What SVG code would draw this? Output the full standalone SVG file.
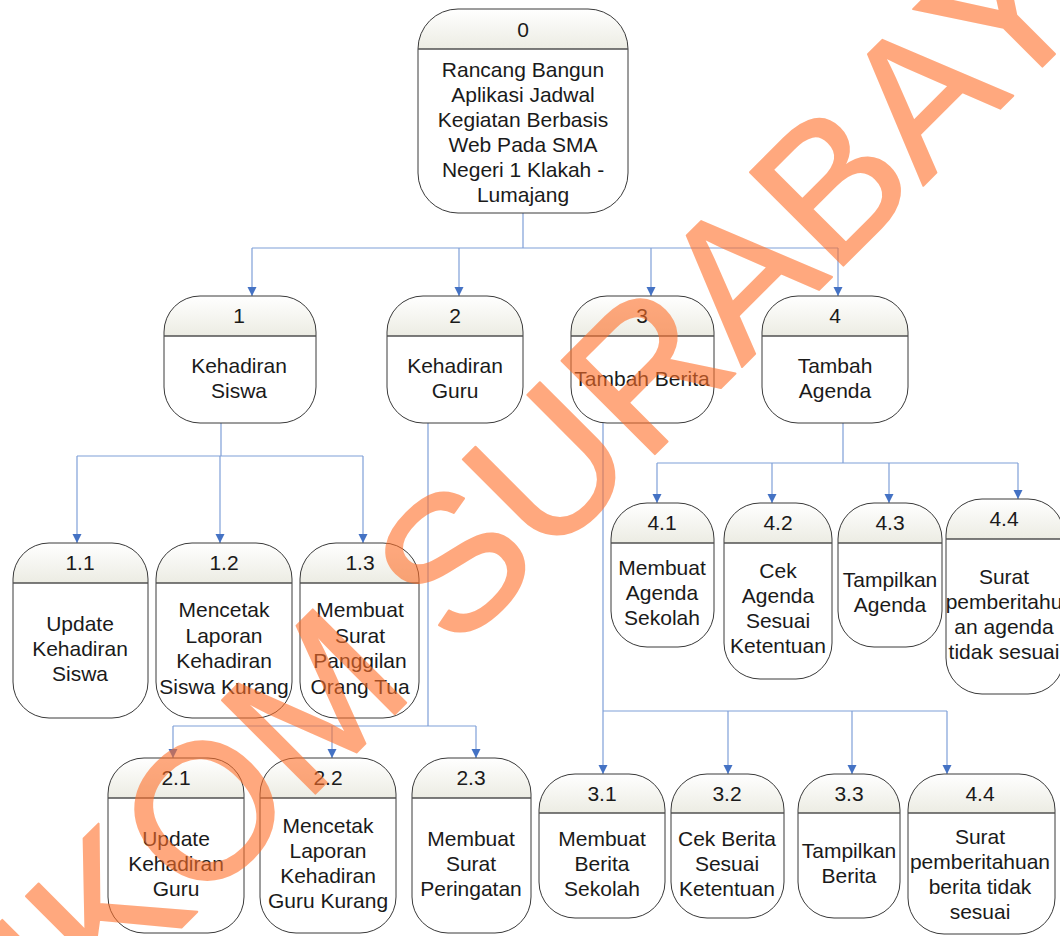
<svg xmlns="http://www.w3.org/2000/svg" width="1060" height="936" viewBox="0 0 1060 936">
<defs>
<linearGradient id="hg" x1="0" y1="0" x2="0" y2="1">
<stop offset="0" stop-color="#ffffff"/>
<stop offset="1" stop-color="#ececE3"/>
</linearGradient>
<marker id="ah" markerWidth="10" markerHeight="10" refX="9" refY="5" orient="auto" markerUnits="userSpaceOnUse">
<path d="M0,0.5 L9,5 L0,9.5 Z" fill="#4472C4"/>
</marker>
</defs>
<style>
.hd{fill:url(#hg);stroke:none}
.ol{fill:none;stroke:#3a3a3a;stroke-width:1}
.bd{fill:#ffffff;stroke:none}
.dv{stroke:#505050;stroke-width:1.5}
text{font-family:"Liberation Sans",Arial,sans-serif;font-size:21px;fill:#1a1a1a;text-anchor:middle}
.cn{fill:none;stroke:#7f9fd8;stroke-width:1.2}
.ar{fill:none;stroke:#7f9fd8;stroke-width:1.2;marker-end:url(#ah)}
.wm{font-family:"Liberation Sans",Arial,sans-serif;font-size:192px;fill:#ff702a;stroke:#ff702a;stroke-width:2;stroke-linejoin:round;text-anchor:start}
</style>
<rect width="1060" height="936" fill="#ffffff"/>

<g id="connectors">
<path class="cn" d="M523,213 V248 M252,248 H838"/>
<path class="ar" d="M252,248 V296"/>
<path class="ar" d="M459,248 V296"/>
<path class="ar" d="M651,248 V296"/>
<path class="ar" d="M838,248 V296"/>
<path class="cn" d="M221,423 V456 M77,456 H363"/>
<path class="ar" d="M77,456 V543"/>
<path class="ar" d="M220,456 V543"/>
<path class="ar" d="M363,456 V543"/>
<path class="cn" d="M428,423 V726 M173,726 H476"/>
<path class="ar" d="M173,726 V758"/>
<path class="ar" d="M332,726 V758"/>
<path class="ar" d="M476,726 V758"/>
<path class="cn" d="M603,423 V711 M603,711 H947"/>
<path class="ar" d="M603,711 V774"/>
<path class="ar" d="M728,711 V774"/>
<path class="ar" d="M852,711 V774"/>
<path class="ar" d="M947,711 V774"/>
<path class="cn" d="M843,423 V463 M657,463 H1018"/>
<path class="ar" d="M657,463 V503"/>
<path class="ar" d="M772,463 V503"/>
<path class="ar" d="M889,463 V503"/>
<path class="ar" d="M1018,463 V499"/>
</g>

<g id="node-0">
<rect class="bd" x="418" y="9" width="210" height="204" rx="40"/>
<path class="hd" d="M418,49 V49 A40,40 0 0 1 458,9 H588 A40,40 0 0 1 628,49 Z"/>
<rect class="ol" x="418" y="9" width="210" height="204" rx="40"/>
<line class="dv" x1="418" y1="49" x2="628" y2="49"/>
<text x="523" y="37">0</text>
<text x="523" y="77">Rancang Bangun</text>
<text x="523" y="102">Aplikasi Jadwal</text>
<text x="523" y="127">Kegiatan Berbasis</text>
<text x="523" y="152">Web Pada SMA</text>
<text x="523" y="177">Negeri 1 Klakah -</text>
<text x="523" y="202">Lumajang</text>
</g>

<g id="node-1">
<rect class="bd" x="164" y="296" width="152" height="127" rx="36"/>
<path class="hd" d="M164,336 V332 A36,36 0 0 1 200,296 H280 A36,36 0 0 1 316,332 V336 Z"/>
<rect class="ol" x="164" y="296" width="152" height="127" rx="36"/>
<line class="dv" x1="164" y1="336" x2="316" y2="336"/>
<text x="239" y="323">1</text>
<text x="239" y="373">Kehadiran</text>
<text x="239" y="398">Siswa</text>
</g>

<g id="node-2">
<rect class="bd" x="387" y="296" width="136" height="127" rx="36"/>
<path class="hd" d="M387,336 V332 A36,36 0 0 1 423,296 H487 A36,36 0 0 1 523,332 V336 Z"/>
<rect class="ol" x="387" y="296" width="136" height="127" rx="36"/>
<line class="dv" x1="387" y1="336" x2="523" y2="336"/>
<text x="455" y="323">2</text>
<text x="455" y="373">Kehadiran</text>
<text x="455" y="398">Guru</text>
</g>

<g id="node-3">
<rect class="bd" x="571" y="296" width="143" height="127" rx="36"/>
<path class="hd" d="M571,336 V332 A36,36 0 0 1 607,296 H678 A36,36 0 0 1 714,332 V336 Z"/>
<rect class="ol" x="571" y="296" width="143" height="127" rx="36"/>
<line class="dv" x1="571" y1="336" x2="714" y2="336"/>
<text x="642" y="323">3</text>
<text x="642" y="386">Tambah Berita</text>
</g>

<g id="node-4">
<rect class="bd" x="762" y="296" width="146" height="127" rx="36"/>
<path class="hd" d="M762,336 V332 A36,36 0 0 1 798,296 H872 A36,36 0 0 1 908,332 V336 Z"/>
<rect class="ol" x="762" y="296" width="146" height="127" rx="36"/>
<line class="dv" x1="762" y1="336" x2="908" y2="336"/>
<text x="835" y="323">4</text>
<text x="835" y="373">Tambah</text>
<text x="835" y="398">Agenda</text>
</g>

<g id="node-1-1">
<rect class="bd" x="13" y="543" width="135" height="175" rx="36"/>
<path class="hd" d="M13,583 V579 A36,36 0 0 1 49,543 H112 A36,36 0 0 1 148,579 V583 Z"/>
<rect class="ol" x="13" y="543" width="135" height="175" rx="36"/>
<line class="dv" x1="13" y1="583" x2="148" y2="583"/>
<text x="80" y="570">1.1</text>
<text x="80" y="631">Update</text>
<text x="80" y="656">Kehadiran</text>
<text x="80" y="681">Siswa</text>
</g>

<g id="node-1-2">
<rect class="bd" x="156" y="543" width="136" height="175" rx="36"/>
<path class="hd" d="M156,583 V579 A36,36 0 0 1 192,543 H256 A36,36 0 0 1 292,579 V583 Z"/>
<rect class="ol" x="156" y="543" width="136" height="175" rx="36"/>
<line class="dv" x1="156" y1="583" x2="292" y2="583"/>
<text x="224" y="570">1.2</text>
<text x="224" y="617">Mencetak</text>
<text x="224" y="643">Laporan</text>
<text x="224" y="668">Kehadiran</text>
<text x="224" y="694">Siswa Kurang</text>
</g>

<g id="node-1-3">
<rect class="bd" x="300" y="543" width="119" height="175" rx="36"/>
<path class="hd" d="M300,583 V579 A36,36 0 0 1 336,543 H383 A36,36 0 0 1 419,579 V583 Z"/>
<rect class="ol" x="300" y="543" width="119" height="175" rx="36"/>
<line class="dv" x1="300" y1="583" x2="419" y2="583"/>
<text x="360" y="570">1.3</text>
<text x="360" y="617">Membuat</text>
<text x="360" y="643">Surat</text>
<text x="360" y="668">Panggilan</text>
<text x="360" y="694">Orang Tua</text>
</g>

<g id="node-2-1">
<rect class="bd" x="108" y="758" width="136" height="175" rx="36"/>
<path class="hd" d="M108,798 V794 A36,36 0 0 1 144,758 H208 A36,36 0 0 1 244,794 V798 Z"/>
<rect class="ol" x="108" y="758" width="136" height="175" rx="36"/>
<line class="dv" x1="108" y1="798" x2="244" y2="798"/>
<text x="176" y="785">2.1</text>
<text x="176" y="846">Update</text>
<text x="176" y="871">Kehadiran</text>
<text x="176" y="896">Guru</text>
</g>

<g id="node-2-2">
<rect class="bd" x="260" y="758" width="136" height="175" rx="36"/>
<path class="hd" d="M260,798 V794 A36,36 0 0 1 296,758 H360 A36,36 0 0 1 396,794 V798 Z"/>
<rect class="ol" x="260" y="758" width="136" height="175" rx="36"/>
<line class="dv" x1="260" y1="798" x2="396" y2="798"/>
<text x="328" y="785">2.2</text>
<text x="328" y="833">Mencetak</text>
<text x="328" y="858">Laporan</text>
<text x="328" y="883">Kehadiran</text>
<text x="328" y="908">Guru Kurang</text>
</g>

<g id="node-2-3">
<rect class="bd" x="412" y="758" width="119" height="175" rx="36"/>
<path class="hd" d="M412,798 V794 A36,36 0 0 1 448,758 H495 A36,36 0 0 1 531,794 V798 Z"/>
<rect class="ol" x="412" y="758" width="119" height="175" rx="36"/>
<line class="dv" x1="412" y1="798" x2="531" y2="798"/>
<text x="471" y="785">2.3</text>
<text x="471" y="846">Membuat</text>
<text x="471" y="871">Surat</text>
<text x="471" y="896">Peringatan</text>
</g>

<g id="node-3-1">
<rect class="bd" x="539" y="774" width="126" height="144" rx="36"/>
<path class="hd" d="M539,813 V810 A36,36 0 0 1 575,774 H629 A36,36 0 0 1 665,810 V813 Z"/>
<rect class="ol" x="539" y="774" width="126" height="144" rx="36"/>
<line class="dv" x1="539" y1="813" x2="665" y2="813"/>
<text x="602" y="801">3.1</text>
<text x="602" y="846">Membuat</text>
<text x="602" y="871">Berita</text>
<text x="602" y="896">Sekolah</text>
</g>

<g id="node-3-2">
<rect class="bd" x="671" y="774" width="113" height="144" rx="36"/>
<path class="hd" d="M671,813 V810 A36,36 0 0 1 707,774 H748 A36,36 0 0 1 784,810 V813 Z"/>
<rect class="ol" x="671" y="774" width="113" height="144" rx="36"/>
<line class="dv" x1="671" y1="813" x2="784" y2="813"/>
<text x="727" y="801">3.2</text>
<text x="727" y="846">Cek Berita</text>
<text x="727" y="871">Sesuai</text>
<text x="727" y="896">Ketentuan</text>
</g>

<g id="node-3-3">
<rect class="bd" x="798" y="774" width="102" height="144" rx="36"/>
<path class="hd" d="M798,813 V810 A36,36 0 0 1 834,774 H864 A36,36 0 0 1 900,810 V813 Z"/>
<rect class="ol" x="798" y="774" width="102" height="144" rx="36"/>
<line class="dv" x1="798" y1="813" x2="900" y2="813"/>
<text x="849" y="801">3.3</text>
<text x="849" y="858">Tampilkan</text>
<text x="849" y="883">Berita</text>
</g>

<g id="node-3-4">
<rect class="bd" x="908" y="774" width="147" height="160" rx="36"/>
<path class="hd" d="M908,813 V810 A36,36 0 0 1 944,774 H1019 A36,36 0 0 1 1055,810 V813 Z"/>
<rect class="ol" x="908" y="774" width="147" height="160" rx="36"/>
<line class="dv" x1="908" y1="813" x2="1055" y2="813"/>
<text x="980" y="801">4.4</text>
<text x="980" y="844">Surat</text>
<text x="980" y="869">pemberitahuan</text>
<text x="980" y="894">berita tidak</text>
<text x="980" y="919">sesuai</text>
</g>

<g id="node-4-1">
<rect class="bd" x="611" y="503" width="103" height="144" rx="36"/>
<path class="hd" d="M611,543 V539 A36,36 0 0 1 647,503 H678 A36,36 0 0 1 714,539 V543 Z"/>
<rect class="ol" x="611" y="503" width="103" height="144" rx="36"/>
<line class="dv" x1="611" y1="543" x2="714" y2="543"/>
<text x="662" y="530">4.1</text>
<text x="662" y="575">Membuat</text>
<text x="662" y="600">Agenda</text>
<text x="662" y="625">Sekolah</text>
</g>

<g id="node-4-2">
<rect class="bd" x="724" y="503" width="108" height="176" rx="36"/>
<path class="hd" d="M724,543 V539 A36,36 0 0 1 760,503 H796 A36,36 0 0 1 832,539 V543 Z"/>
<rect class="ol" x="724" y="503" width="108" height="176" rx="36"/>
<line class="dv" x1="724" y1="543" x2="832" y2="543"/>
<text x="778" y="530">4.2</text>
<text x="778" y="578">Cek</text>
<text x="778" y="603">Agenda</text>
<text x="778" y="628">Sesuai</text>
<text x="778" y="653">Ketentuan</text>
</g>

<g id="node-4-3">
<rect class="bd" x="838" y="503" width="104" height="144" rx="36"/>
<path class="hd" d="M838,543 V539 A36,36 0 0 1 874,503 H906 A36,36 0 0 1 942,539 V543 Z"/>
<rect class="ol" x="838" y="503" width="104" height="144" rx="36"/>
<line class="dv" x1="838" y1="543" x2="942" y2="543"/>
<text x="890" y="530">4.3</text>
<text x="890" y="587">Tampilkan</text>
<text x="890" y="612">Agenda</text>
</g>

<g id="node-4-4">
<rect class="bd" x="946" y="499" width="118" height="195" rx="36"/>
<path class="hd" d="M946,539 V535 A36,36 0 0 1 982,499 H1028 A36,36 0 0 1 1064,535 V539 Z"/>
<rect class="ol" x="946" y="499" width="118" height="195" rx="36"/>
<line class="dv" x1="946" y1="539" x2="1064" y2="539"/>
<text x="1004" y="526">4.4</text>
<text x="1004" y="584">Surat</text>
<text x="1004" y="609">pemberitahu</text>
<text x="1004" y="634">an agenda</text>
<text x="1004" y="659">tidak sesuai</text>
</g>

<g id="watermark" opacity="0.6">
<text class="wm" x="0" y="0" transform="translate(-103,1212) rotate(-45)">STIKOM SURABAYA</text>
</g>
</svg>
